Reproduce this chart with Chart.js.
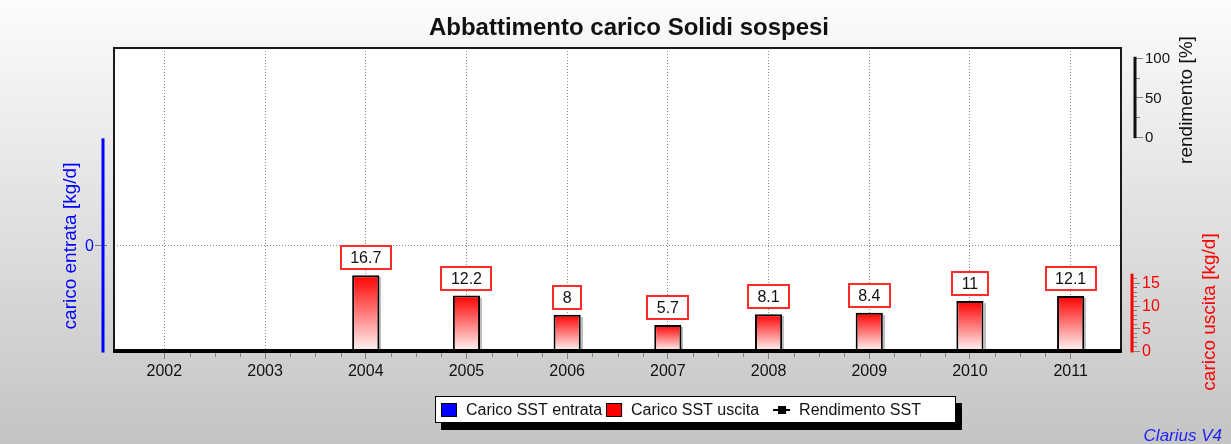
<!DOCTYPE html>
<html>
<head>
<meta charset="utf-8">
<title>Abbattimento carico Solidi sospesi</title>
<script src="https://cdn.jsdelivr.net/npm/chart.js@4.4.1/dist/chart.umd.min.js"></script>
<style>
  html, body { margin: 0; padding: 0; background: #fff; }
  canvas { display: block; }
</style>
</head>
<body>
<canvas id="chart" width="1231" height="444"></canvas>
<script>
const years = ['2002', '2003', '2004', '2005', '2006', '2007', '2008', '2009', '2010', '2011'];
const caricoEntrata = [null, null, null, null, null, null, null, null, null, null];
const caricoUscita = [null, null, 16.7, 12.2, 8, 5.7, 8.1, 8.4, 11, 12.1];
const rendimento = [null, null, null, null, null, null, null, null, null, null];
const entrataTicks = [0];
const rendimentoTicks = [0, 50, 100];
const uscitaTicks = [0, 5, 10, 15];

const FONT = "'Liberation Sans', Arial, Helvetica, sans-serif";
Chart.defaults.font.family = FONT;

function barGradient(context) {
  const chart = context.chart;
  if (!chart.chartArea || context.raw == null) return '#ff0000';
  const y = chart.scales.yOut;
  const top = y.getPixelForValue(context.raw);
  const base = y.getPixelForValue(0);
  const g = chart.ctx.createLinearGradient(0, top, 0, base);
  g.addColorStop(0, '#ff0000');
  g.addColorStop(1, '#fff6f6');
  return g;
}

function line(ctx, x1, y1, x2, y2) {
  ctx.beginPath();
  ctx.moveTo(x1, y1);
  ctx.lineTo(x2, y2);
  ctx.stroke();
}

function vText(ctx, text, x, y, color, size) {
  ctx.save();
  ctx.translate(x, y);
  ctx.rotate(-Math.PI / 2);
  ctx.fillStyle = color;
  ctx.font = `${size}px ${FONT}`;
  ctx.textAlign = 'center';
  ctx.textBaseline = 'middle';
  ctx.fillText(text, 0, 0);
  ctx.restore();
}

// side axis drawn next to the plot, only over part of the scale range
function sideAxis(ctx, scale, opt) {
  const { x, from, to, color, ticks, minorStep, labelColor, labelSize, majorLen, minorLen, side } = opt;
  ctx.save();
  ctx.strokeStyle = '#808080';
  ctx.lineWidth = 1;
  for (let v = from; v <= to + 1e-9; v += minorStep) {
    const len = ticks.includes(v) ? majorLen : minorLen;
    if (!len) continue;
    const py = Math.round(scale.getPixelForValue(v)) + 0.5;
    if (side === 'left') line(ctx, x - len, py, x + 4, py);
    else line(ctx, x, py, x + len, py);
  }
  ctx.strokeStyle = color;
  ctx.lineWidth = 3;
  ctx.lineCap = 'square';
  line(ctx, x, scale.getPixelForValue(from), x, scale.getPixelForValue(to));
  ctx.fillStyle = labelColor;
  ctx.font = `${labelSize}px ${FONT}`;
  ctx.textBaseline = 'middle';
  ctx.textAlign = side === 'left' ? 'right' : 'left';
  ticks.forEach((v) => {
    const py = scale.getPixelForValue(v);
    ctx.fillText(String(v), side === 'left' ? x - majorLen - 1 : x + majorLen + 2, py + 1);
  });
  ctx.restore();
}

const decorations = {
  id: 'decorations',
  beforeDraw(chart) {
    const { ctx, width, height, chartArea: a } = chart;
    ctx.save();
    const bg = ctx.createLinearGradient(0, 0, 0, height);
    bg.addColorStop(0, '#fcfcfc');
    bg.addColorStop(1, '#c4c4c4');
    ctx.fillStyle = bg;
    ctx.fillRect(0, 0, width, height);
    ctx.fillStyle = '#ffffff';
    ctx.fillRect(a.left, a.top, a.right - a.left, a.bottom - a.top);
    // dotted line at carico entrata = 0
    const y0 = Math.round(chart.scales.yIn.getPixelForValue(0)) + 0.5;
    ctx.strokeStyle = '#8c8c8c';
    ctx.lineWidth = 1;
    ctx.setLineDash([1, 2]);
    line(ctx, a.left, y0, a.right, y0);
    ctx.restore();
  },
  afterDatasetsDraw(chart) {
    const { ctx, chartArea: a } = chart;
    const x = chart.scales.x;
    ctx.save();
    // plot frame
    ctx.strokeStyle = '#1a1a1a';
    ctx.lineWidth = 2;
    line(ctx, a.left, a.bottom, a.left, a.top);
    line(ctx, a.left - 1, a.top, a.right + 1, a.top);
    line(ctx, a.right, a.top, a.right, a.bottom);
    ctx.strokeStyle = '#000';
    ctx.lineWidth = 4;
    line(ctx, a.left - 1, a.bottom, a.right + 1, a.bottom);
    // minor ticks on the year axis
    ctx.strokeStyle = '#808080';
    ctx.lineWidth = 1;
    for (let i = 0; i < years.length - 1; i++) {
      const p0 = x.getPixelForValue(i), p1 = x.getPixelForValue(i + 1);
      for (let k = 1; k < 4; k++) {
        const px = Math.round(p0 + (p1 - p0) * k / 4) + 0.5;
        line(ctx, px, a.bottom + 2, px, a.bottom + 6);
      }
    }
    // value boxes above the bars
    const meta = chart.getDatasetMeta(1);
    ctx.font = `16px ${FONT}`;
    ctx.textAlign = 'center';
    ctx.textBaseline = 'middle';
    meta.data.forEach((bar, i) => {
      const v = caricoUscita[i];
      if (v == null) return;
      // light shadow on the right side of the bar
      ctx.fillStyle = 'rgba(0,0,0,0.25)';
      ctx.fillRect(Math.round(bar.x + bar.width / 2), Math.round(bar.y) + 2, 2, Math.round(bar.base - bar.y) - 2);
      const text = String(v);
      const w = Math.round(ctx.measureText(text).width) + 19;
      const h = 23;
      const bx = Math.round(bar.x - w / 2);
      const by = Math.round(bar.y) - 6 - h;
      ctx.fillStyle = '#ffffff';
      ctx.fillRect(bx, by, w, h);
      ctx.strokeStyle = '#ff2a2a';
      ctx.lineWidth = 2;
      ctx.strokeRect(bx, by, w, h);
      ctx.fillStyle = '#111';
      ctx.fillText(text, bar.x, by + h / 2 + 1);
    });
    ctx.restore();
  },
  afterDraw(chart) {
    const { ctx } = chart;
    const s = chart.scales;
    ctx.save();
    // title
    ctx.fillStyle = '#111';
    ctx.font = `bold 24px ${FONT}`;
    ctx.textAlign = 'center';
    ctx.textBaseline = 'middle';
    ctx.fillText('Abbattimento carico Solidi sospesi', 629, 28);

    sideAxis(ctx, s.yIn, { x: 103, from: -1, to: 1, color: '#0000ff', ticks: entrataTicks, minorStep: 1,
      labelColor: '#0000ff', labelSize: 16, majorLen: 8, minorLen: 0, side: 'left' });
    sideAxis(ctx, s.yEff, { x: 1135, from: 0, to: 100, color: '#111', ticks: rendimentoTicks, minorStep: 25,
      labelColor: '#111', labelSize: 15, majorLen: 8, minorLen: 5, side: 'right' });
    const uscitaMax = Math.max(...caricoUscita.filter((v) => v != null));
    sideAxis(ctx, s.yOut, { x: 1132, from: 0, to: uscitaMax, color: '#ff0000', ticks: uscitaTicks, minorStep: 1,
      labelColor: '#ff0000', labelSize: 16, majorLen: 8, minorLen: 5, side: 'right' });

    vText(ctx, 'carico entrata [kg/d]', 71, 246, '#0000ff', 19);
    vText(ctx, 'rendimento [%]', 1187, 100, '#111', 19);
    vText(ctx, 'carico uscita [kg/d]', 1210, 312, '#ff0000', 19);

    // legend box with drop shadow
    const lx = 435, ly = 396, lw = 521, lh = 27;
    ctx.fillStyle = '#000';
    ctx.fillRect(lx + 6, ly + 7, lw, lh);
    ctx.fillStyle = '#fff';
    ctx.fillRect(lx, ly, lw, lh);
    ctx.strokeStyle = '#000';
    ctx.lineWidth = 1;
    ctx.strokeRect(lx + 0.5, ly + 0.5, lw - 1, lh - 1);
    ctx.font = `16px ${FONT}`;
    ctx.textAlign = 'left';
    ctx.textBaseline = 'middle';
    const cy = ly + 14;
    let cx = lx + 6;
    chart.data.datasets.forEach((ds) => {
      if (ds.type === 'line') {
        cx += 10;
        ctx.strokeStyle = '#000';
        ctx.lineWidth = 2;
        line(ctx, cx, cy, cx + 17, cy);
        ctx.fillStyle = '#000';
        ctx.fillRect(cx + 5, cy - 4, 8, 8);
        cx += 26;
      } else {
        ctx.fillStyle = ds.legendColor;
        ctx.fillRect(cx, cy - 7, 16, 14);
        ctx.strokeStyle = '#000';
        ctx.lineWidth = 1;
        ctx.strokeRect(cx + 0.5, cy - 6.5, 15, 13);
        cx += 25;
      }
      ctx.fillStyle = '#111';
      ctx.fillText(ds.label, cx, cy + 1);
      cx += ctx.measureText(ds.label).width + 4;
    });

    ctx.fillStyle = '#1f1fff';
    ctx.font = `italic 17px ${FONT}`;
    ctx.textAlign = 'right';
    ctx.textBaseline = 'alphabetic';
    ctx.fillText('Clarius V4', 1222, 441);
    ctx.restore();
  }
};

new Chart(document.getElementById('chart'), {
  type: 'bar',
  data: {
    labels: years,
    datasets: [
      { label: 'Carico SST entrata', data: caricoEntrata, yAxisID: 'yIn', legendColor: '#0000ff',
        backgroundColor: '#0000ff', borderColor: '#000', borderWidth: 2, grouped: false,
        barPercentage: 0.27, categoryPercentage: 1 },
      { label: 'Carico SST uscita', data: caricoUscita, yAxisID: 'yOut', legendColor: '#ff0000',
        backgroundColor: barGradient, borderColor: '#000', borderWidth: 2, grouped: false,
        barPercentage: 0.27, categoryPercentage: 1 },
      { type: 'line', label: 'Rendimento SST', data: rendimento, yAxisID: 'yEff',
        borderColor: '#000', borderWidth: 2, pointStyle: 'rect', pointRadius: 4, pointBackgroundColor: '#000' }
    ]
  },
  options: {
    responsive: false,
    animation: false,
    layout: { padding: { top: 48, left: 114, right: 110, bottom: 48 } },
    plugins: {
      legend: { display: false },
      title: { display: false },
      tooltip: { enabled: false }
    },
    scales: {
      x: {
        offset: true,
        grid: { offset: false, color: '#8c8c8c', lineWidth: 1, tickLength: 8, tickColor: '#808080' },
        border: { display: false, dash: [1, 2] },
        ticks: { font: { size: 16 }, color: '#111', padding: 3, maxRotation: 0 },
        afterFit(scale) { scale.height = 45; }
      },
      yIn: { display: false, position: 'left', min: -1, max: 1.87 },
      yEff: { display: false, position: 'right', min: -273.3, max: 113.1 },
      yOut: { display: false, position: 'right', min: 0, max: 66.7 }
    }
  },
  plugins: [decorations]
});
</script>
</body>
</html>
